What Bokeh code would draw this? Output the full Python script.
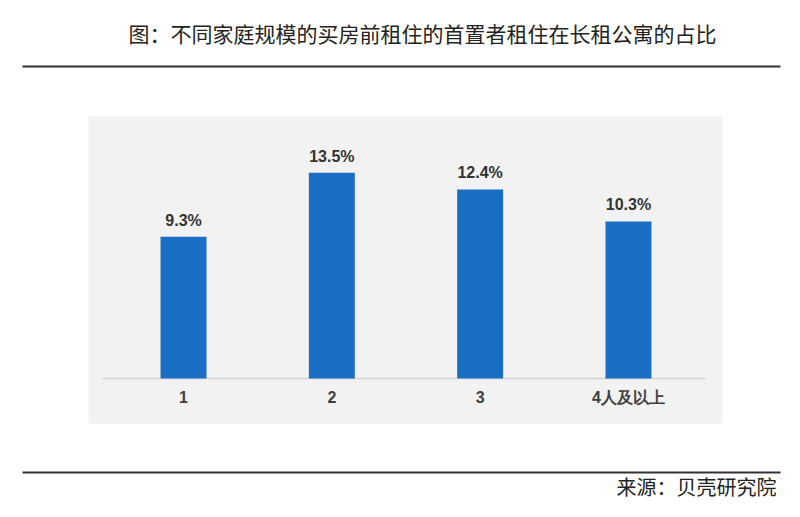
from bokeh.plotting import figure
from bokeh.models import Range1d, ColumnDataSource
from bokeh.core.properties import value
from bokeh.embed import file_html
from bokeh.resources import INLINE

# ---- data ----
categories = ["1", "2", "3", "4人及以上"]
shares = [9.3, 13.5, 12.4, 10.3]
value_labels = ["9.3%", "13.5%", "12.4%", "10.3%"]
title_text = "图：不同家庭规模的买房前租住的首置者租住在长租公寓的占比"
source_text = "来源：贝壳研究院"

W, H = 784, 501
xpos = [i + 1 for i in range(len(categories))]

p = figure(width=W, height=H, output_backend="svg", toolbar_location=None,
           x_range=Range1d(0, W), y_range=Range1d(H, 0),
           x_axis_type=None, y_axis_type=None, min_border=0,
           outline_line_color=None, background_fill_color="white",
           border_fill_color="white")
p.grid.visible = False
p.extra_x_ranges = {"cat": Range1d(-0.234, 5.052)}
p.extra_y_ranges = {"val": Range1d(-8.07, 24.79)}

# title and rules
p.text(x=[422], y=[32], text=[title_text], text_font=value("Noto Sans CJK SC"),
       text_font_size="21px", text_color="#222222", text_align="center",
       text_baseline="middle")
p.segment(x0=[22, 22], y0=[66, 472], x1=[780, 780], y1=[66, 472],
          line_color="#333333", line_width=2)
p.text(x=[776], y=[486], text=[source_text], text_font=value("Noto Sans CJK SC"),
       text_font_size="20px", text_color="#222222", text_align="right",
       text_baseline="middle")

# grey panel
p.quad(left=[88], right=[722], top=[116], bottom=[423], fill_color="#f2f2f2",
       line_color=None)
# baseline
p.segment(x0=[102], y0=[378], x1=[705], y1=[378], line_color="#d4d4d4", line_width=1.5)

src = ColumnDataSource(dict(x=xpos, top=shares, lab=value_labels, cat=categories))
p.vbar(x="x", top="top", bottom=0, width=0.31, source=src, fill_color="#1a6ec4",
       line_color=None, x_range_name="cat", y_range_name="val")
p.text(x="x", y="top", text="lab", source=src, x_range_name="cat", y_range_name="val",
       text_font=value("Liberation Sans"), text_font_style="bold",
       text_font_size="16px", text_color="#333333", text_align="center",
       text_baseline="bottom", y_offset=-8)
p.text(x="x", y=0, text="cat", source=src, x_range_name="cat", y_range_name="val",
       text_font=value("Liberation Sans"), text_font_style="bold",
       text_font_size="16px", text_color="#404040", text_align="center",
       text_baseline="middle", y_offset=19)

open("out.html", "w").write(file_html(p, INLINE))
